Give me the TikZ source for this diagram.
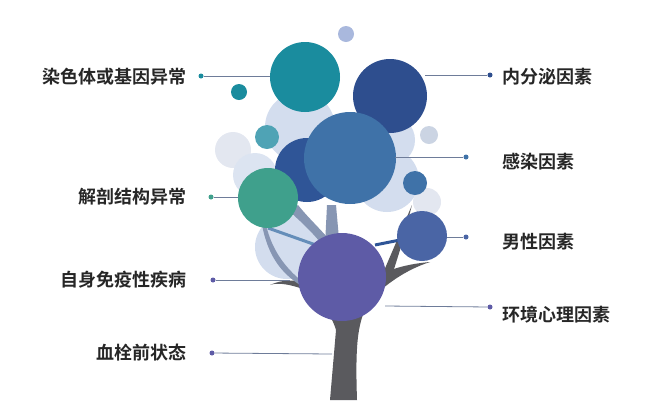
\documentclass[tikz,border=0pt]{standalone}
\usepackage{fontspec}
\newfontfamily\cjk{Noto Sans CJK SC}[BoldFont={Noto Sans CJK SC Bold}]
\begin{document}
\begin{tikzpicture}[x=1pt,y=-1pt,
 lbl/.style={font=\cjk\bfseries\fontsize{18}{20}\selectfont,text=black!85,inner sep=0pt},
 ln/.style={draw=cLine,line width=0.8pt},
 dotc/.style={circle,fill=#1,inner sep=0pt,minimum size=5pt}]
\definecolor{pale}{HTML}{D3DDEE}
\definecolor{pale2}{HTML}{E3E7F0}
\definecolor{trunk}{HTML}{5A5A5E}
\definecolor{cLine}{HTML}{6E7C99}
\definecolor{cTeal}{HTML}{1A8C9E}
\definecolor{cDark}{HTML}{2E4E8E}
\definecolor{cSteel}{HTML}{3F72A8}
\definecolor{cMid}{HTML}{2F5597}
\definecolor{cGreen}{HTML}{3FA08C}
\definecolor{cRight}{HTML}{4A65A5}
\definecolor{cPurple}{HTML}{5E5BA6}
\definecolor{cTeal2}{HTML}{4FA3B5}
\definecolor{cTop}{HTML}{A9B8DD}
\definecolor{cBranch}{HTML}{8796B3}
\useasboundingbox (0,0) rectangle (660,400);
% pale background circles
\fill[pale2] (233,150) circle (18);
\fill[pale] (300,127) circle (35);
\fill[pale] (387,180) circle (32);
\fill[pale] (287,247) circle (32);
\fill[pale2] (427,202) circle (14);
\fill[pale!80] (255,175) circle (22);
\fill[pale] (390,140) circle (25);
% trunk and branches
\fill[trunk] (330,400) -- (336,330) .. controls (330,310) and (315,295) .. (300,288)
 .. controls (285,283) and (275,283) .. (270,285) .. controls (285,278) and (300,280) .. (315,285)
 -- (340,300) -- (355,290) .. controls (375,275) and (395,265) .. (430,262)
 .. controls (405,270) and (385,285) .. (370,300) .. controls (358,320) and (355,340) .. (357,400) -- cycle;
\fill[trunk] (380,280) -- (395,245) -- (412,205) -- (400,250) -- (390,282) -- cycle;
\fill[cBranch] (325,245) -- (327,205) -- (336,205) -- (340,250) -- cycle;
\fill[cBranch] (290,212) .. controls (305,225) and (318,238) .. (330,255) -- (338,250) .. controls (322,230) and (310,220) .. (298,205) -- cycle;
\fill[cBranch] (262,225) .. controls (268,255) and (280,272) .. (300,285) -- (303,282) .. controls (285,268) and (272,250) .. (266,225) -- cycle;
\draw[line width=3pt,cSteel!80] (268,228) -- (330,250);
\draw[line width=3pt,cMid] (375,245) -- (410,238);
% colored circles
\fill[cTop] (346,34) circle (8);
\fill[pale!90!gray] (429,135) circle (9);
\fill[cTeal] (305,77) circle (35);
\fill[cTeal] (239,92) circle (8);
\fill[cDark] (390,96) circle (37);
\fill[cTeal2] (267,137) circle (12);
\fill[cMid] (307,170) circle (32);
\fill[cSteel] (350,158) circle (46);
\fill[cSteel] (415,183) circle (12);
\fill[cGreen] (268,198) circle (30);
\fill[cRight] (422,236) circle (25);
\fill[cPurple] (342,277) circle (44);
% labels
\node[lbl,anchor=east] (l1) at (187,77) {染色体或基因异常};
\node[lbl,anchor=east] (l2) at (187,197) {解剖结构异常};
\node[lbl,anchor=east] (l3) at (187,280) {自身免疫性疾病};
\node[lbl,anchor=east] (l4) at (187,353) {血栓前状态};
\node[lbl,anchor=west] (r1) at (502,77) {内分泌因素};
\node[lbl,anchor=west] (r2) at (502,162) {感染因素};
\node[lbl,anchor=west] (r3) at (502,242) {男性因素};
\node[lbl,anchor=west] (r4) at (502,315) {环境心理因素};
% leader lines
\node[dotc=cTeal] (d1) at (201,76) {};
\coordinate (e1) at (270,76);
\draw[ln] (d1) -- (e1);
\node[dotc=cGreen] (d2) at (211,197) {};
\coordinate (e2) at (238,197);
\draw[ln] (d2) -- (e2);
\node[dotc=cPurple] (d3) at (213,280) {};
\coordinate (e3) at (290,280);
\draw[ln] (d3) -- (e3);
\node[dotc=cPurple] (d4) at (212,353) {};
\coordinate (e4) at (332,354);
\draw[ln] (d4) -- (e4);
\node[dotc=cDark] (d5) at (490,75) {};
\coordinate (e5) at (425,75);
\draw[ln] (d5) -- (e5);
\node[dotc=cSteel] (d6) at (466,157) {};
\coordinate (e6) at (395,157);
\draw[ln] (d6) -- (e6);
\node[dotc=cRight] (d7) at (466,237) {};
\coordinate (e7) at (447,237);
\draw[ln] (d7) -- (e7);
\node[dotc=cPurple] (d8) at (490,307) {};
\coordinate (e8) at (385,306);
\draw[ln] (d8) -- (e8);
\end{tikzpicture}
\end{document}
